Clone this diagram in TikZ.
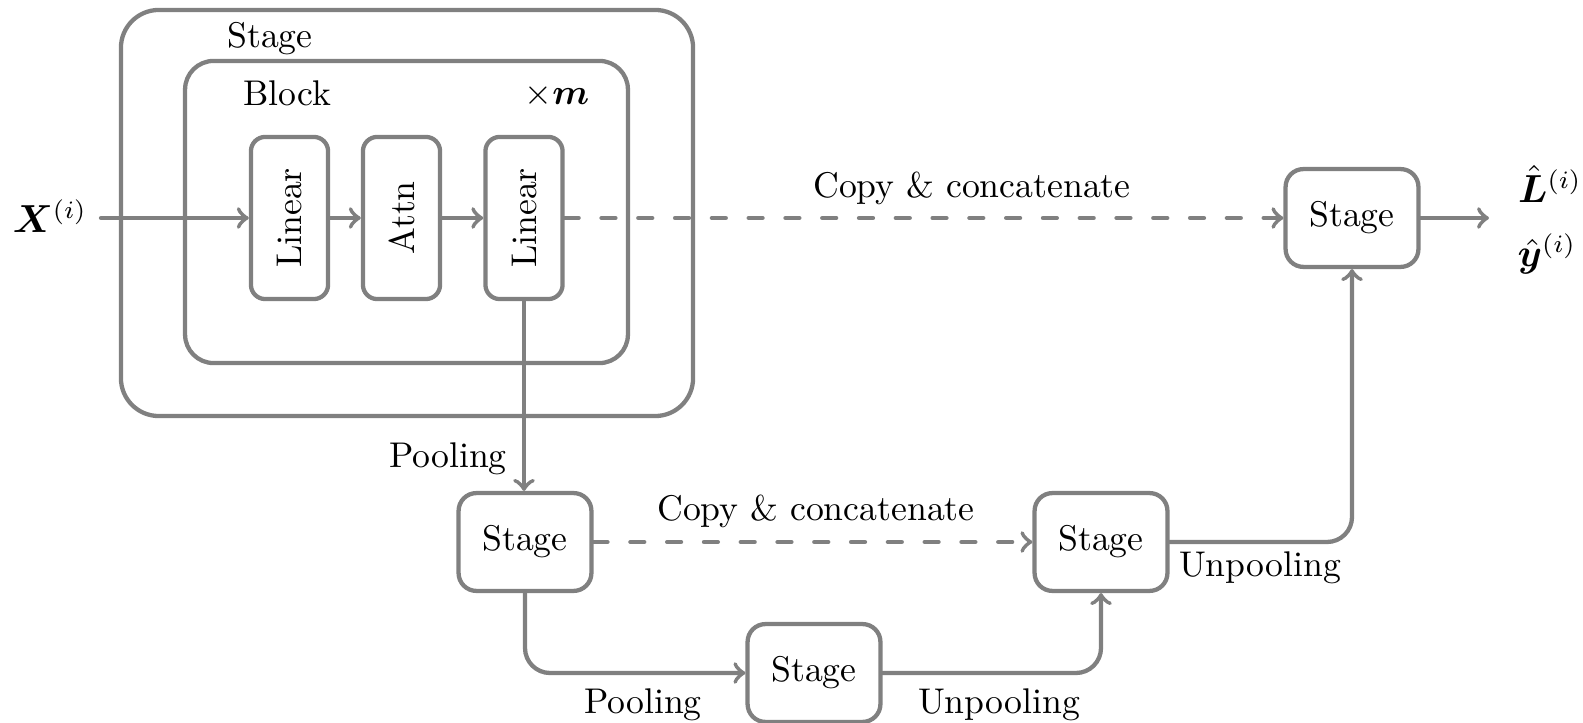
\documentclass[tikz,border=0pt]{standalone}
\usepackage{amsmath,bm}
\usetikzlibrary{arrows.meta}
\begin{document}
\begin{tikzpicture}[x=0.28pt,y=-0.28pt,
  line width=1.2pt, draw=gray, line cap=round,
  every node/.style={inner sep=0pt},
  stagebox/.style={draw=gray, line width=1.2pt, rounded corners=5pt, fill=white,
    minimum width=37.2pt, minimum height=27.4pt},
  layerbox/.style={draw=gray, line width=1.2pt, rounded corners=4pt,
    minimum width=21.6pt, minimum height=45.4pt},
  frame/.style={draw=gray, line width=1.2pt},
  flow/.style={draw=gray, line width=1.2pt, -to, rounded corners=7pt},
  copyflow/.style={flow, dash pattern=on 3.9pt off 6.4pt},
  lbl/.style={inner sep=0pt},
  mathlbl/.style={inner sep=0pt, font=\fontsize{10.6}{12}\selectfont}
]
\useasboundingbox (0,0) rectangle (1583,723);

% nested frames: stage containing a repeated block
\node[frame, rounded corners=10.6pt, minimum width=160.2pt, minimum height=113.7pt] (stageframe) at (407,213) {};
\node[lbl] (stagelbl) at (270,39) {Stage};
\node[frame, rounded corners=8pt, minimum width=124pt, minimum height=84.6pt] (blockframe) at (406.5,212) {};
\node[lbl] (blocklbl) at (287,93) {Block};
\node[lbl] (times) at (557,96) {$\times\bm{m}$};

% layers inside the block
\node[layerbox] (lin1) at (289.5,218) {\rotatebox{90}{Linear}};
\node[layerbox] (attn) at (401.5,218) {\rotatebox{90}{Attn}};
\node[layerbox] (lin2) at (524,218) {\rotatebox{90}{Linear}};

% input and outputs
\node[mathlbl] (xin) at (50,216) {$\bm{X}^{(i)}$};
\node[mathlbl] (lout) at (1550,184) {$\hat{\bm{L}}^{(i)}$};
\node[mathlbl] (yout) at (1547,254) {$\hat{\bm{y}}^{(i)}$};
\coordinate (outend) at (1489,218);
\coordinate (instart) at (101,218);

% further stages
\node[stagebox] (s1) at (525,542) {Stage};
\node[stagebox] (s2) at (814,673) {Stage};
\node[stagebox] (s3) at (1101,542) {Stage};
\node[stagebox] (s4) at (1352,218) {Stage};

% connections
\draw[flow] (instart) -- (lin1.west);
\draw[flow] (lin1.east) -- (attn.west);
\draw[flow] (attn.east) -- (lin2.west);
\draw[copyflow] (lin2.east) -- (s4.west);
\draw[flow] (s4.east) -- (outend);
\draw[flow] (lin2.south) -- (lin2.south |- s1.north);
\draw[copyflow] (s1.east) -- (s3.west);
\draw[flow] (s1.south) |- (s2.west);
\draw[flow] (s2.east) -| (s3.south);
\draw[flow] (s3.east) -| (s4.south);

% edge labels
\node[lbl] (copytop) at (972,188) {Copy \& concatenate};
\node[lbl] (copymid) at (816,511) {Copy \& concatenate};
\node[lbl] (pool1) at (448,459) {Pooling};
\node[lbl] (pool2) at (643,705) {Pooling};
\node[lbl] (unpool1) at (999,705) {Unpooling};
\node[lbl] (unpool2) at (1260,568) {Unpooling};
\end{tikzpicture}
\end{document}
